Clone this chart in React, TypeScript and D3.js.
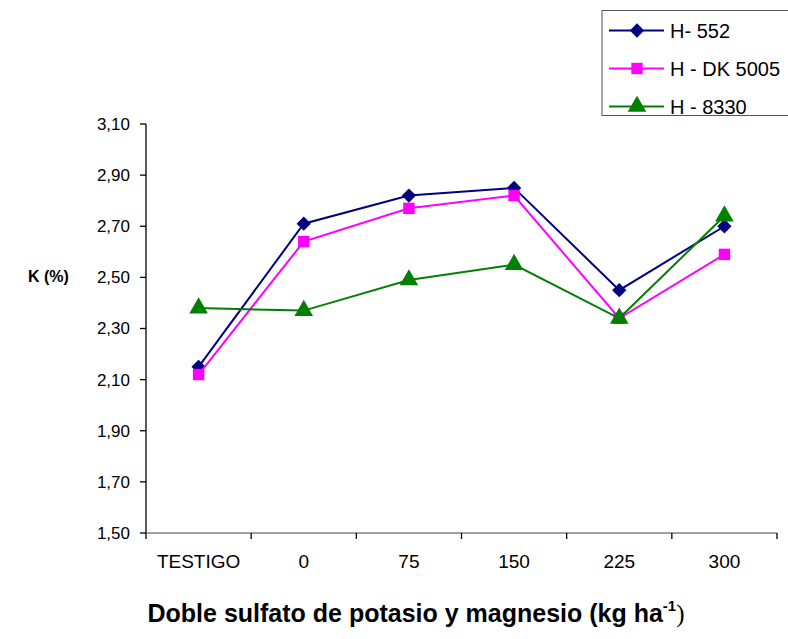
import React from "react";
import * as d3 from "d3";

const categories = ["TESTIGO", "0", "75", "150", "225", "300"];
const seriesNames = ["H- 552", "H - DK 5005", "H - 8330"];
const h552 = [2.15, 2.71, 2.82, 2.85, 2.45, 2.70];
const dk5005 = [2.12, 2.64, 2.77, 2.82, 2.34, 2.59];
const h8330 = [2.38, 2.37, 2.49, 2.55, 2.34, 2.74];
const yTicks = [1.5, 1.7, 1.9, 2.1, 2.3, 2.5, 2.7, 2.9, 3.1];

const colors = ["#000080", "#FF00FF", "#008000"];
const shapes = [d3.symbolDiamond2, d3.symbolSquare, d3.symbolTriangle];
const symSizes = [130, 130, 150];

const W = 788;
const H = 639;
const left = 146;
const right = 777;
const top = 124;
const bottom = 533;
const font = "'Liberation Sans', Arial, sans-serif";

export default function App() {
  const x = d3.scaleBand<string>().domain(categories).range([left, right]);
  const y = d3.scaleLinear().domain([1.5, 3.1]).range([bottom, top]);
  const series = [h552, dk5005, h8330];
  const line = d3
    .line<number>()
    .x((_, i) => (x(categories[i]) as number) + x.bandwidth() / 2)
    .y((v) => y(v));
  const fmt = (v: number) => v.toFixed(2).replace(".", ",");
  const bounds = [...categories.map((c) => x(c) as number), right];

  return (
    <svg width={W} height={H} style={{ position: "absolute", left: 0, top: 0, background: "#fff" }}>
      <rect x={0} y={0} width={W} height={H} fill="#fff" />
      {/* y axis */}
      <line x1={left} x2={left} y1={top} y2={bottom} stroke="#000" strokeWidth={1.3} />
      {yTicks.map((t) => (
        <g key={t}>
          <line x1={left - 6} x2={left} y1={y(t)} y2={y(t)} stroke="#000" strokeWidth={1.3} />
          <text x={left - 16} y={y(t)} dy="0.35em" textAnchor="end" fontFamily={font} fontSize={17} fill="#000">
            {fmt(t)}
          </text>
        </g>
      ))}
      {/* x axis */}
      <line x1={left} x2={right} y1={bottom} y2={bottom} stroke="#808080" strokeWidth={1.5} />
      {bounds.map((b, i) => (
        <line key={i} x1={b} x2={b} y1={bottom} y2={bottom + 6} stroke="#000" strokeWidth={1.3} />
      ))}
      {categories.map((c) => (
        <text
          key={c}
          x={(x(c) as number) + x.bandwidth() / 2}
          y={568}
          textAnchor="middle"
          fontFamily={font}
          fontSize={19}
          fill="#000"
        >
          {c}
        </text>
      ))}
      {/* series */}
      {series.map((s, si) => (
        <g key={si}>
          <path d={line(s) || ""} fill="none" stroke={colors[si]} strokeWidth={2} />
          {s.map((v, i) => (
            <path
              key={i}
              d={d3.symbol().type(shapes[si]).size(symSizes[si])() || ""}
              transform={`translate(${(x(categories[i]) as number) + x.bandwidth() / 2},${y(v)})`}
              fill={colors[si]}
            />
          ))}
        </g>
      ))}
      {/* legend */}
      <rect x={602} y={10.5} width={200} height={105} fill="#fff" stroke="#555" strokeWidth={1} />
      {seriesNames.map((n, i) => {
        const ly = 30.5 + i * 38;
        return (
          <g key={n}>
            <line x1={609} x2={664} y1={ly} y2={ly} stroke={colors[i]} strokeWidth={2} />
            <path
              d={d3.symbol().type(shapes[i]).size(symSizes[i])() || ""}
              transform={`translate(637,${ly})`}
              fill={colors[i]}
            />
            <text x={670} y={ly} dy="0.35em" fontFamily={font} fontSize={20} fill="#000">
              {n}
            </text>
          </g>
        );
      })}
      {/* axis titles */}
      <text x={28} y={282} fontFamily={font} fontSize={16} fontWeight="bold" fill="#000">
        K (%)
      </text>
      <text x={416} y={622} textAnchor="middle" fontFamily={font} fontSize={25} fontWeight="bold" fill="#000">
        Doble sulfato de potasio y magnesio (kg ha
        <tspan fontSize={15} dy={-11}>-1</tspan>
        <tspan fontSize={25} dy={11} fontWeight="normal" fontFamily="'Liberation Serif', serif">)</tspan>
      </text>
    </svg>
  );
}
